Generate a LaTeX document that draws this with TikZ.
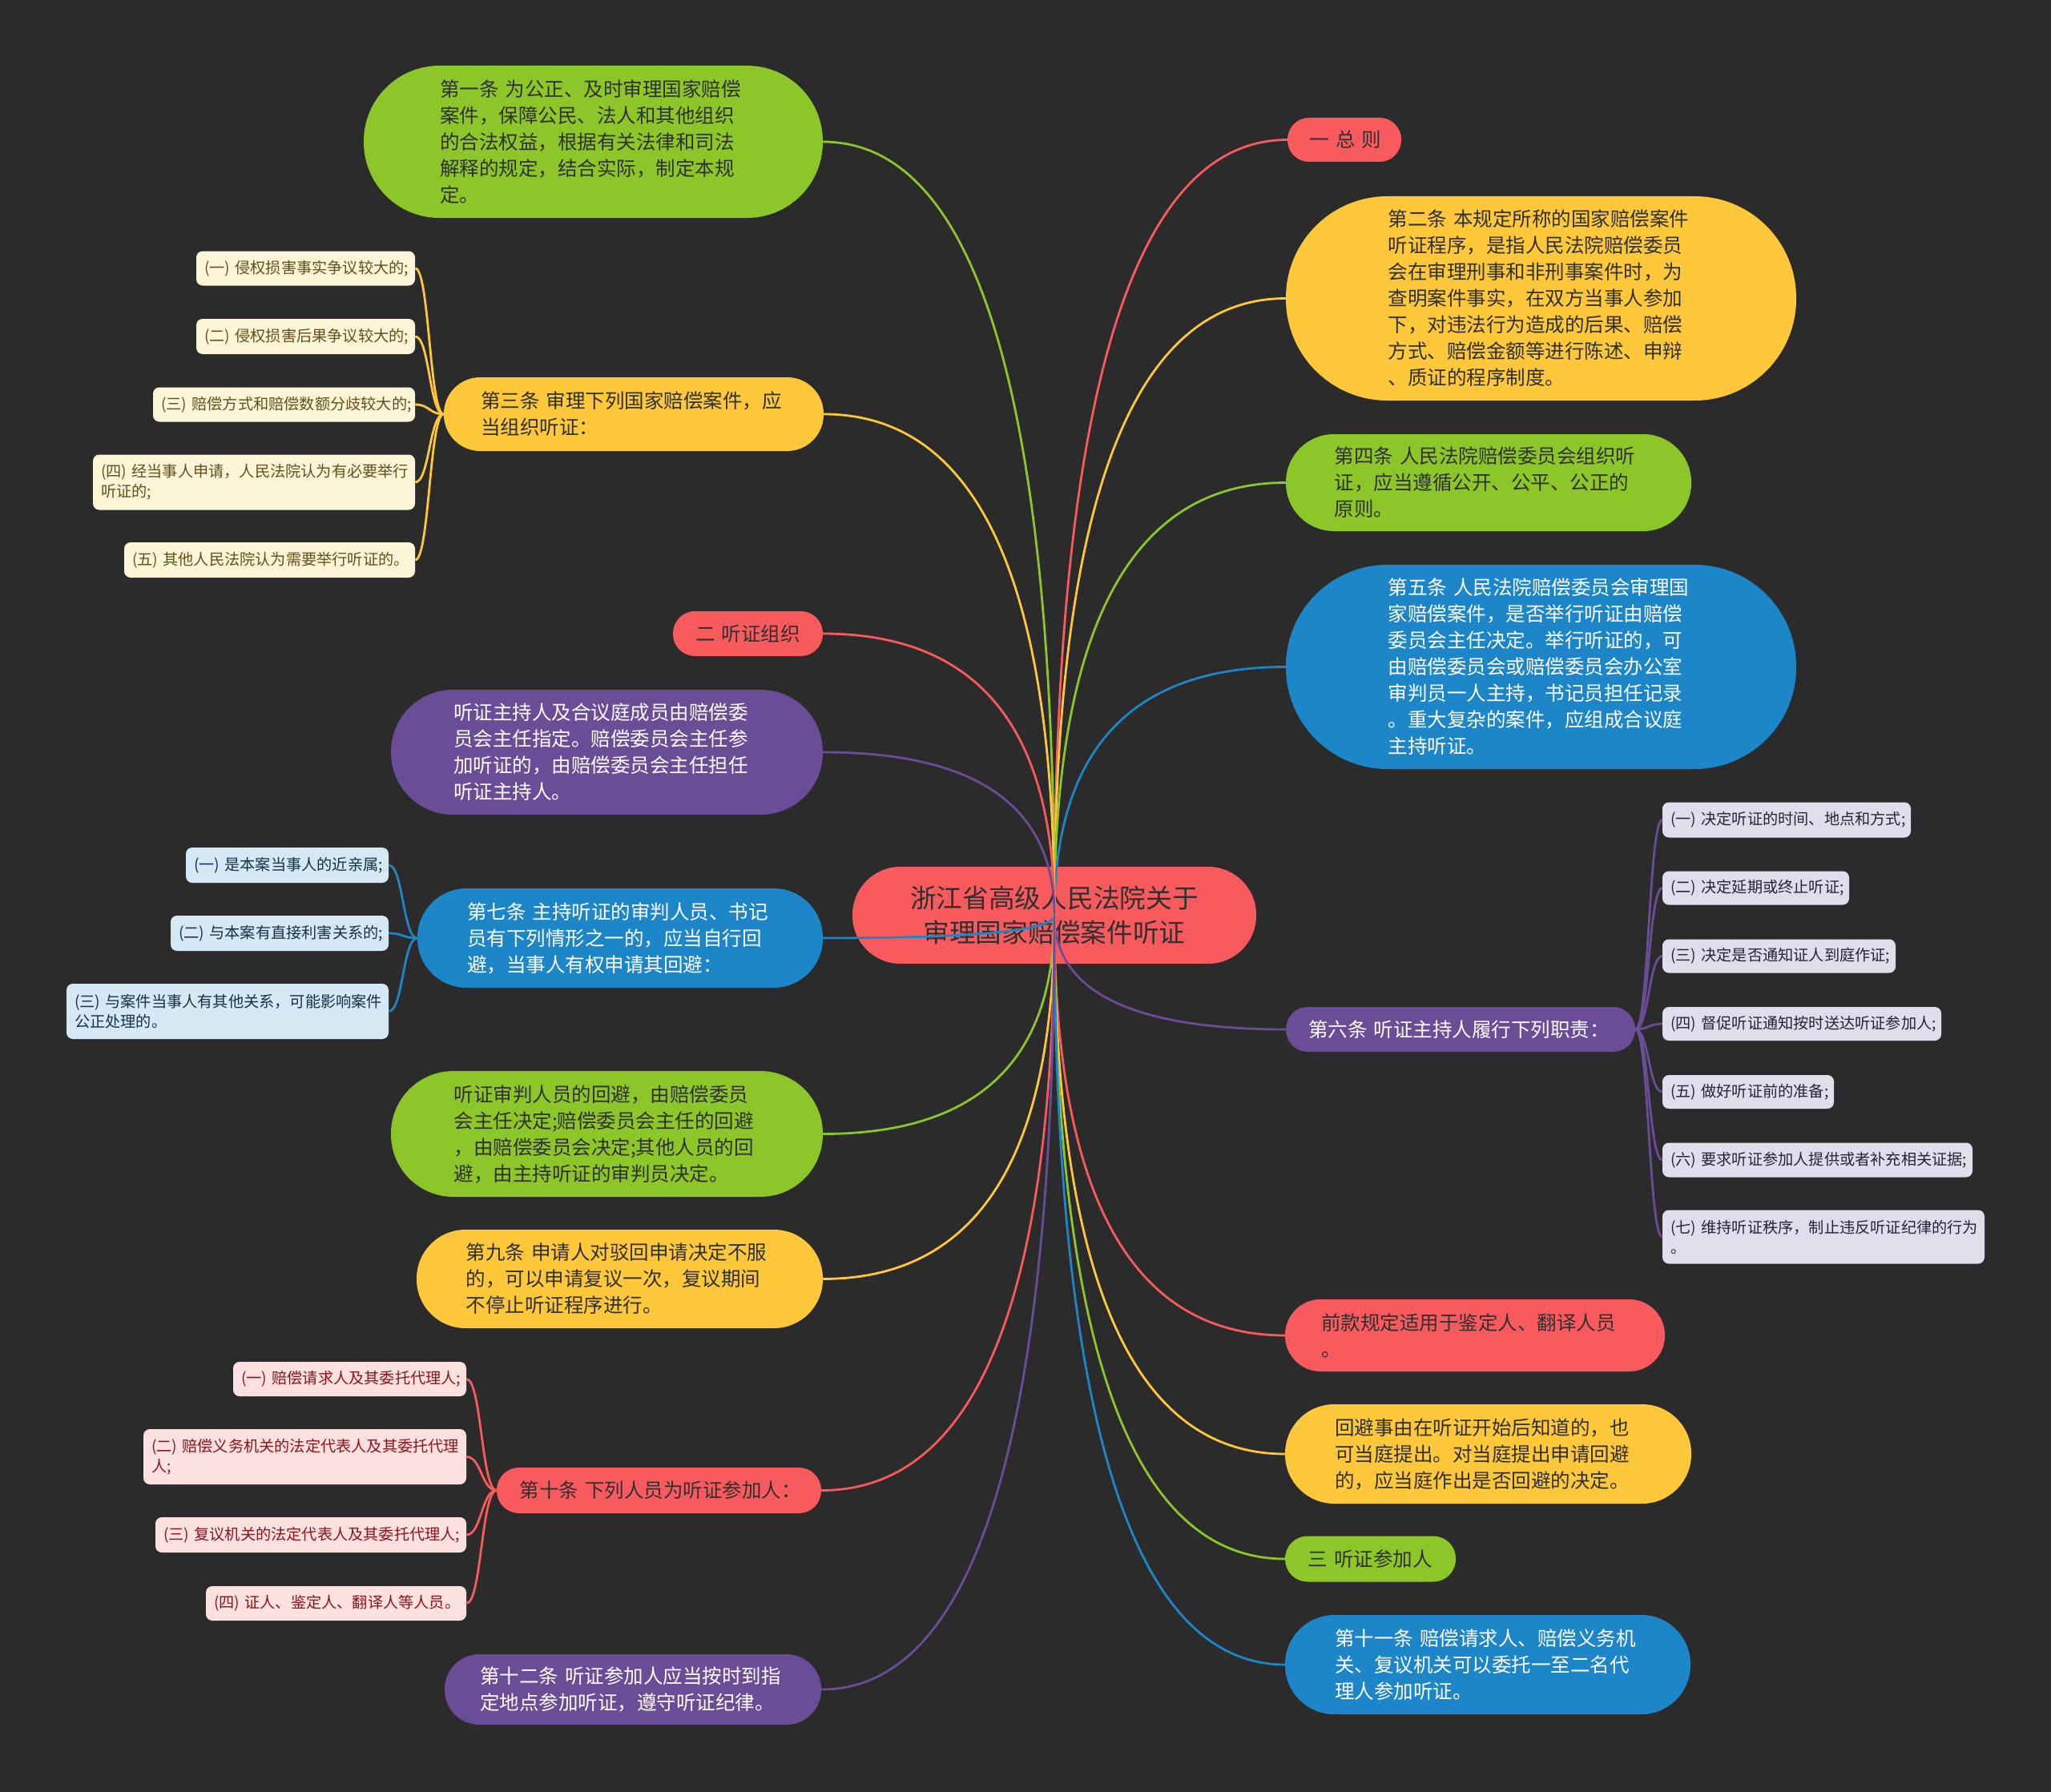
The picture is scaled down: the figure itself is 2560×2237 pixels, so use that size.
\documentclass[tikz,border=0pt]{standalone}
\usepackage{fontspec}
\setmainfont{Noto Sans CJK SC}
\usetikzlibrary{calc}
\definecolor{bg}{HTML}{2B2B2B}
\definecolor{cred}{HTML}{F95A5D}
\definecolor{cyellow}{HTML}{FEC83A}
\definecolor{cgreen}{HTML}{8CC628}
\definecolor{cblue}{HTML}{1C86C8}
\definecolor{cpurple}{HTML}{6B4C96}
\definecolor{tdark}{HTML}{303030}
\definecolor{lyellow}{HTML}{FDF5D7}
\definecolor{tyellow}{HTML}{64501A}
\definecolor{lblue}{HTML}{D5E8F4}
\definecolor{tblue}{HTML}{14324B}
\definecolor{lpink}{HTML}{FDE1E1}
\definecolor{tpink}{HTML}{8C1419}
\definecolor{lpurple}{HTML}{E1DDEB}
\definecolor{tpurple}{HTML}{28233C}
\newcommand{\mainnode}[7]{%
  \pgfmathsetmacro{\mnTW}{#4-#5}\pgfmathsetmacro{\mnR}{#5/2-0.6}\pgfmathsetmacro{\mnP}{#5/2}%
  \node[box,#6,minimum width=#4pt,minimum height=#5pt,text width=\mnTW pt,inner xsep=\mnP pt,rounded corners=\mnR pt] (#1) at (#2,#3) {#7};}
\newcommand{\leafnode}[7]{%
  \pgfmathsetmacro{\lfTW}{#4-20}%
  \node[leaf,#6,minimum width=#4pt,minimum height=#5pt,text width=\lfTW pt] (#1) at (#2,#3) {#7};}
\newcommand{\mlink}[2]{\draw[mainline,#1] let \p1=(c.center), \p2=(#2) in (\p1) .. controls (\x1,{\y1+2/3*(\y2-\y1)}) and ({\x1+1/3*(\x2-\x1)},\y2) .. (\p2);}
\newcommand{\llink}[3]{\draw[mainline,#1] let \p1=(#2), \p2=(#3) in (\p1) .. controls ({(\x1+\x2)/2},\y1) and ({(\x1+\x2)/2},\y2) .. (\p2);}
\begin{document}
\begin{tikzpicture}[x=1pt,y=-1pt,
  box/.style={rectangle,inner ysep=0pt,align=left,font=\fontsize{24.5}{33}\selectfont},
  leaf/.style={rectangle,rounded corners=8pt,inner xsep=10pt,inner ysep=0pt,align=left,font=\fontsize{19.2}{25}\selectfont},
  redfill/.style={fill=cred,text=tdark},
  yellowfill/.style={fill=cyellow,text=tdark},
  greenfill/.style={fill=cgreen,text=tdark},
  bluefill/.style={fill=cblue,text=white},
  purplefill/.style={fill=cpurple,text=white},
  yleaf/.style={fill=lyellow,text=tyellow},
  bleaf/.style={fill=lblue,text=tblue},
  pleaf/.style={fill=lpink,text=tpink},
  vleaf/.style={fill=lpurple,text=tpurple},
  mainline/.style={draw,line width=2.8pt},
]
\fill[bg] (0,0) rectangle (2560,2237);
\useasboundingbox (0,0) rectangle (2560,2237);

% centre
\node[rectangle,fill=cred,text=tdark,minimum width=504pt,minimum height=121pt,rounded corners=59.9pt,inner sep=0pt,align=center,font=\fontsize{32.7}{43}\selectfont] (c) at (1316,1142.5) {浙江省高级人民法院关于\\审理国家赔偿案件听证};

% right side
\mainnode{zz}{1678}{174.5}{142}{55}{redfill}{一~总~则}
\mainnode{n2}{1923.5}{372.5}{637}{255}{yellowfill}{第二条~本规定所称的国家赔偿案件\\听证程序，是指人民法院赔偿委员\\会在审理刑事和非刑事案件时，为\\查明案件事实，在双方当事人参加\\下，对违法行为造成的后果、赔偿\\方式、赔偿金额等进行陈述、申辩\\、质证的程序制度。}
\mainnode{n4}{1858}{602.5}{506}{121}{greenfill}{第四条~人民法院赔偿委员会组织听\\证，应当遵循公开、公平、公正的\\原则。}
\mainnode{n5}{1923.5}{832.5}{637}{255}{bluefill}{第五条~人民法院赔偿委员会审理国\\家赔偿案件，是否举行听证由赔偿\\委员会主任决定。举行听证的，可\\由赔偿委员会或赔偿委员会办公室\\审判员一人主持，书记员担任记录\\。重大复杂的案件，应组成合议庭\\主持听证。}
\mainnode{n6}{1823}{1285}{436}{56}{purplefill}{第六条~听证主持人履行下列职责：}
\mainnode{nqk}{1841}{1667}{474}{90}{redfill}{前款规定适用于鉴定人、翻译人员\\。}
\mainnode{nhb}{1857.5}{1815}{507}{124}{yellowfill}{回避事由在听证开始后知道的，也\\可当庭提出。对当庭提出申请回避\\的，应当庭作出是否回避的决定。}
\mainnode{nsan}{1710.5}{1946}{213}{57}{greenfill}{三~听证参加人}
\mainnode{n11}{1857}{2078}{506}{124}{bluefill}{第十一条~赔偿请求人、赔偿义务机\\关、复议机关可以委托一至二名代\\理人参加听证。}

% left side
\mainnode{n1}{740.5}{177}{573}{190}{greenfill}{第一条~为公正、及时审理国家赔偿\\案件，保障公民、法人和其他组织\\的合法权益，根据有关法律和司法\\解释的规定，结合实际，制定本规\\定。}
\mainnode{n3}{791}{517}{474}{92}{yellowfill}{第三条~审理下列国家赔偿案件，应\\当组织听证：}
\mainnode{ner}{933.5}{791}{187}{56}{redfill}{二~听证组织}
\mainnode{nzc}{757.5}{939}{539}{156}{purplefill}{听证主持人及合议庭成员由赔偿委\\员会主任指定。赔偿委员会主任参\\加听证的，由赔偿委员会主任担任\\听证主持人。}
\mainnode{n7}{774}{1171}{506}{124}{bluefill}{第七条~主持听证的审判人员、书记\\员有下列情形之一的，应当自行回\\避，当事人有权申请其回避：}
\mainnode{nhs}{757.5}{1415.5}{539}{157}{greenfill}{听证审判人员的回避，由赔偿委员\\会主任决定;赔偿委员会主任的回避\\，由赔偿委员会决定;其他人员的回\\避，由主持听证的审判员决定。}
\mainnode{n9}{773.5}{1596.5}{507}{123}{yellowfill}{第九条~申请人对驳回申请决定不服\\的，可以申请复议一次，复议期间\\不停止听证程序进行。}
\mainnode{n10}{822.5}{1860.5}{405}{57}{redfill}{第十条~下列人员为听证参加人：}
\mainnode{n12}{790}{2109}{470}{88}{purplefill}{第十二条~听证参加人应当按时到指\\定地点参加听证，遵守听证纪律。}

% leaves of 第三条
\leafnode{la1}{381.5}{335}{273}{43}{yleaf}{(一)~侵权损害事实争议较大的;}
\leafnode{la2}{381.5}{420}{273}{44}{yleaf}{(二)~侵权损害后果争议较大的;}
\leafnode{la3}{354.5}{505}{327}{43}{yleaf}{(三)~赔偿方式和赔偿数额分歧较大的;}
\leafnode{la4}{317}{602}{402}{69}{yleaf}{(四)~经当事人申请，人民法院认为有必要举行\\听证的;}
\leafnode{la5}{336.5}{699}{363}{44}{yleaf}{(五)~其他人民法院认为需要举行听证的。}

% leaves of 第七条
\leafnode{lb1}{358.5}{1080}{253}{44}{bleaf}{(一)~是本案当事人的近亲属;}
\leafnode{lb2}{349}{1165}{272}{44}{bleaf}{(二)~与本案有直接利害关系的;}
\leafnode{lb3}{284}{1262.5}{402}{69}{bleaf}{(三)~与案件当事人有其他关系，可能影响案件\\公正处理的。}

% leaves of 第十条
\leafnode{lc1}{436.5}{1721.5}{291}{43}{pleaf}{(一)~赔偿请求人及其委托代理人;}
\leafnode{lc2}{380.5}{1818.5}{403}{69}{pleaf}{(二)~赔偿义务机关的法定代表人及其委托代理\\人;}
\leafnode{lc3}{388}{1916}{388}{44}{pleaf}{(三)~复议机关的法定代表人及其委托代理人;}
\leafnode{lc4}{419.5}{2001.5}{325}{43}{pleaf}{(四)~证人、鉴定人、翻译人等人员。}

% leaves of 第六条
\leafnode{ld1}{2230}{1023.5}{310}{44}{vleaf}{(一)~决定听证的时间、地点和方式;}
\leafnode{ld2}{2191.5}{1108.5}{233}{42}{vleaf}{(二)~决定延期或终止听证;}
\leafnode{ld3}{2220.5}{1193.5}{291}{42}{vleaf}{(三)~决定是否通知证人到庭作证;}
\leafnode{ld4}{2249}{1278}{348}{42}{vleaf}{(四)~督促听证通知按时送达听证参加人;}
\leafnode{ld5}{2182}{1363}{214}{42}{vleaf}{(五)~做好听证前的准备;}
\leafnode{ld6}{2268.5}{1448}{387}{43}{vleaf}{(六)~要求听证参加人提供或者补充相关证据;}
\leafnode{ld7}{2276}{1544}{402}{67}{vleaf}{(七)~维持听证秩序，制止违反听证纪律的行为\\。}

% main connectors
\mlink{cred}{zz.west}
\mlink{cyellow}{n2.west}
\mlink{cgreen}{n4.west}
\mlink{cblue}{n5.west}
\mlink{cpurple}{n6.west}
\mlink{cred}{nqk.west}
\mlink{cyellow}{nhb.west}
\mlink{cgreen}{nsan.west}
\mlink{cblue}{n11.west}
\mlink{cgreen}{n1.east}
\mlink{cyellow}{n3.east}
\mlink{cred}{ner.east}
\mlink{cpurple}{nzc.east}
\mlink{cblue}{n7.east}
\mlink{cgreen}{nhs.east}
\mlink{cyellow}{n9.east}
\mlink{cred}{n10.east}
\mlink{cpurple}{n12.east}

% leaf connectors
\foreach \l in {la1,la2,la3,la4,la5}{\llink{cyellow}{n3.west}{\l.east}}
\foreach \l in {lb1,lb2,lb3}{\llink{cblue}{n7.west}{\l.east}}
\foreach \l in {lc1,lc2,lc3,lc4}{\llink{cred}{n10.west}{\l.east}}
\foreach \l in {ld1,ld2,ld3,ld4,ld5,ld6,ld7}{\llink{cpurple}{n6.east}{\l.west}}
\end{tikzpicture}
\end{document}
